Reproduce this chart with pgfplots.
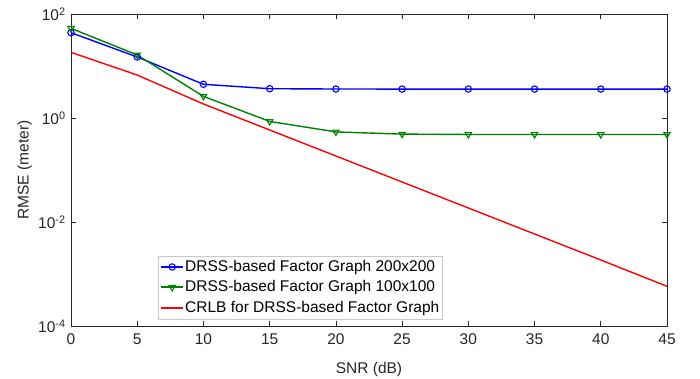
\documentclass[border=0pt]{standalone}
\usepackage{fontspec}
\setmainfont{Liberation Sans}
\usepackage{pgfplots}
\pgfplotsset{compat=1.18}
\definecolor{axgray}{RGB}{38,38,38}
\definecolor{mblue}{RGB}{0,0,255}
\definecolor{mgreen}{RGB}{0,128,0}
\definecolor{mred}{RGB}{255,0,0}
\definecolor{legbox}{RGB}{200,200,200}
\begin{document}
\fontsize{15.5bp}{18bp}\selectfont
\begin{tikzpicture}
\useasboundingbox (-71bp,-53bp) rectangle (629bp,326bp);
\begin{axis}[
  at={(0,0)}, anchor=south west,
  width=596bp, height=312bp, scale only axis,
  ymode=log,
  xmin=0, xmax=45, ymin=1e-4, ymax=1e2,
  xtick={0,5,...,45},
  ytick={1e-4,1e-2,1,1e2},
  yticklabels={10\textsuperscript{-4},10\textsuperscript{-2},10\textsuperscript{0},10\textsuperscript{2}},
  minor ytick={}, 
  /pgf/number format/assume math mode=true,
  tick align=inside,
  major tick length=5bp,
  minor tick length=0bp,
  axis line style={axgray, line width=0.6bp},
  every tick/.style={axgray, line width=0.6bp},
  tick label style={font=\fontsize{15.5bp}{18bp}\selectfont, text=axgray},
  xticklabel style={yshift=-2bp},
  label style={font=\fontsize{15.5bp}{18bp}\selectfont, text=axgray},
  xlabel={SNR (dB)},
  ylabel={RMSE (meter)},
  xlabel style={yshift=-7bp},
  ylabel style={yshift=-4bp},
  legend style={at={(rel axis cs:0.146,0.022)}, anchor=south west,
    draw=legbox, fill=white,
    font=\fontsize{15.5bp}{18bp}\selectfont,
    inner xsep=2bp, inner ysep=2.5bp, row sep=2.8bp,
    nodes={inner xsep=1bp},
    /tikz/every even column/.append style={column sep=0pt}},
  legend cell align=left,
  legend image code/.code={\draw[#1, line width=2bp] (0bp,0bp) -- (22bp,0bp); \draw[#1, only marks] plot coordinates {(11bp,0bp)};},
]
\addplot[color=mblue, line width=1.4bp, mark=o, mark size=3.2bp, mark options={solid, line width=1.1bp}] coordinates {
(0,43.7) (5,14.9) (10,4.45) (15,3.66) (20,3.61) (25,3.6) (30,3.6) (35,3.6) (40,3.6) (45,3.6)};
\addlegendentry{DRSS-based Factor Graph 200x200}
\addplot[color=mgreen, line width=1.4bp, mark=triangle, mark size=3.6bp, mark options={solid, line width=1.1bp, rotate=180}] coordinates {
(0,53) (5,16.3) (10,2.61) (15,0.86) (20,0.54) (25,0.49) (30,0.482) (35,0.482) (40,0.482) (45,0.482)};
\addlegendentry{DRSS-based Factor Graph 100x100}
\addplot[color=mred, line width=1.4bp] coordinates {
(0,18.3) (5,6.7) (10,1.86) (15,0.588) (20,0.186) (25,0.0588) (30,0.0186) (35,0.00588) (40,0.00186) (45,0.00058)};
\addlegendentry{CRLB for DRSS-based Factor Graph}
\end{axis}
\end{tikzpicture}
\end{document}
